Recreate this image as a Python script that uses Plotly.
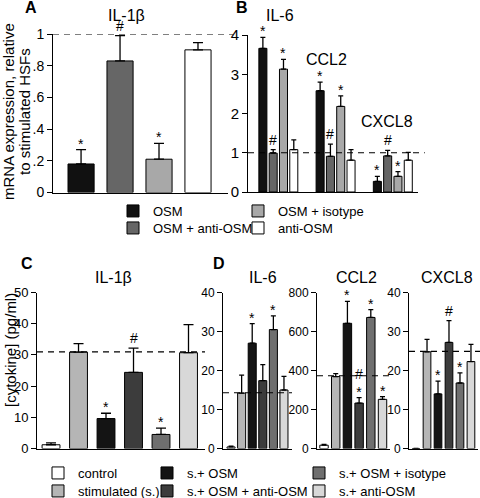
import plotly.graph_objects as go

FONT = "Liberation Sans, Arial, sans-serif"

# ---------------- Panel A : IL-1beta mRNA ----------------
A_groups = ["OSM", "OSM + anti-OSM", "OSM + isotype", "anti-OSM"]
A_vals = [0.18, 0.83, 0.21, 0.90]
A_err = [0.09, 0.16, 0.10, 0.045]
A_marks = ["*", "#", "*", ""]
A_ref = 1.0
A_tickvals = [0, 0.2, 0.4, 0.6, 0.8, 1.0]
A_ticktext = ["0", ".2", ".4", ".6", ".8", "1"]

# ---------------- Panel B : IL-6 / CCL2 / CXCL8 mRNA ----------------
B_genes = ["IL-6", "CCL2", "CXCL8"]
B_osm = [3.66, 2.58, 0.27]
B_osm_err = [0.28, 0.22, 0.13]
B_anti = [0.99, 0.91, 0.92]
B_anti_err = [0.09, 0.31, 0.14]
B_iso = [3.13, 2.18, 0.40]
B_iso_err = [0.25, 0.27, 0.12]
B_antiosm = [1.08, 0.81, 0.81]
B_antiosm_err = [0.25, 0.27, 0.20]
B_osm_marks = ["*", "*", "*"]
B_anti_marks = ["#", "#", "#"]
B_iso_marks = ["*", "*", "*"]
B_antiosm_marks = ["", "", ""]
B_ref = 1.0

AB_colors = ["#111111", "#666666", "#a8a8a8", "#ffffff"]

# ---------------- Panel C / D : secreted cytokines ----------------
CD_groups = ["control", "stimulated (s.)", "s.+ OSM", "s.+ OSM + anti-OSM",
             "s.+ OSM + isotype", "s.+ anti-OSM"]
CD_colors = ["#ffffff", "#b5b5b5", "#141414", "#3c3c3c", "#6f6f6f", "#d8d8d8"]

C_vals = [1.2, 30.9, 9.6, 24.4, 4.5, 30.7]
C_err = [0.6, 2.7, 1.7, 7.8, 2.0, 9.0]
C_marks = ["", "", "*", "#", "*", ""]
C_ref = 31.0

D_il6_vals = [0.4, 14.2, 27.0, 17.4, 30.5, 15.0]
D_il6_err = [0.2, 4.6, 5.0, 4.1, 3.5, 3.5]
D_il6_marks = ["", "", "*", "", "*", ""]
D_il6_ref = 14.3

D_ccl2_vals = [17, 369, 642, 233, 672, 252]
D_ccl2_err = [4, 15, 112, 28, 40, 14]
D_ccl2_marks = ["", "", "*", "#<br>*", "*", "*"]
D_ccl2_ref = 373

D_cxcl8_vals = [0.0, 24.8, 14.0, 27.2, 16.8, 22.3]
D_cxcl8_err = [0.0, 3.2, 3.3, 5.6, 2.6, 4.4]
D_cxcl8_marks = ["", "", "*", "#", "*", ""]
D_cxcl8_ref = 24.9

W, H = 480, 498
BARGAP = 0.28
BARGROUPGAP = 0.22


def px(x):
    return x / W


def py(y):
    return 1 - y / H


def err(arr, width):
    return dict(type="data", array=arr, arrayminus=[0] * len(arr), symmetric=False,
                color="black", thickness=1.3, width=width)


fig = go.Figure()

# Panel A
fig.add_trace(go.Bar(x=A_groups, y=A_vals, error_y=err(A_err, 5), width=0.67,
                     marker=dict(color=AB_colors, line=dict(color="black", width=1)),
                     xaxis="x", yaxis="y", showlegend=False))

# Panel B
B_series = [
    ("OSM", B_osm, B_osm_err, B_osm_marks, "legend"),
    ("OSM + anti-OSM", B_anti, B_anti_err, B_anti_marks, "legend3"),
    ("OSM + isotype", B_iso, B_iso_err, B_iso_marks, "legend2"),
    ("anti-OSM", B_antiosm, B_antiosm_err, B_antiosm_marks, "legend4"),
]
for k, (name, vals, e, marks, lg) in enumerate(B_series):
    fig.add_trace(go.Bar(x=B_genes, y=vals, error_y=err(e, 2.5), name=name,
                         marker=dict(color=AB_colors[k], line=dict(color="black", width=1)),
                         xaxis="x2", yaxis="y2", legend=lg))

# Panel C (one trace per group -> legend entries)
CD_legends = ["legend5", "legend8", "legend6", "legend9", "legend7", "legend10"]
for i, g in enumerate(CD_groups):
    fig.add_trace(go.Bar(x=[g], y=[C_vals[i]], error_y=err([C_err[i]], 5), name=g,
                         width=0.65, offsetgroup="c",
                         marker=dict(color=CD_colors[i], line=dict(color="black", width=1)),
                         xaxis="x3", yaxis="y3", legend=CD_legends[i]))

# Panel D
D_sets = [
    (D_il6_vals, D_il6_err, "x4", "y4", 0.76),
    (D_ccl2_vals, D_ccl2_err, "x5", "y5", 0.72),
    (D_cxcl8_vals, D_cxcl8_err, "x6", "y6", 0.70),
]
for vals, e, xa, ya, wd in D_sets:
    fig.add_trace(go.Bar(x=CD_groups, y=vals, error_y=err(e, 2.5), width=wd,
                         marker=dict(color=CD_colors, line=dict(color="black", width=1)),
                         xaxis=xa, yaxis=ya, showlegend=False))

annotations = []


def mark_ann(x, y, t, xref, yref):
    if not t:
        return
    shift = -4 if t.endswith("*") else 0
    annotations.append(dict(x=x, y=y, text=t, xref=xref, yref=yref, showarrow=False,
                            yanchor="bottom", xanchor="center", yshift=shift,
                            font=dict(family=FONT, size=14, color="black")))


for i, g in enumerate(A_groups):
    mark_ann(g, A_vals[i] + A_err[i], A_marks[i], "x", "y")
slot = (1 - BARGAP) / 4
for k, (name, vals, e, marks, lg) in enumerate(B_series):
    for i in range(len(B_genes)):
        mark_ann(i + (k - 1.5) * slot, vals[i] + e[i], marks[i], "x2", "y2")
for i, g in enumerate(CD_groups):
    mark_ann(g, C_vals[i] + C_err[i], C_marks[i], "x3", "y3")
for (vals, e, xa, ya, wd), marks in zip(D_sets, [D_il6_marks, D_ccl2_marks, D_cxcl8_marks]):
    for i, g in enumerate(CD_groups):
        mark_ann(g, vals[i] + e[i], marks[i], xa, ya)


def text_ann(x, y, t, size, bold=False, angle=0):
    annotations.append(dict(x=px(x), y=py(y), xref="paper", yref="paper", text=t,
                            showarrow=False, xanchor="center", yanchor="middle",
                            textangle=angle,
                            font=dict(family=FONT, size=size, color="black",
                                      weight="bold" if bold else "normal")))


# panel letters
text_ann(31, 8, "A", 16, True)
text_ann(242, 8, "B", 16, True)
text_ann(27, 263, "C", 16, True)
text_ann(219, 263, "D", 16, True)
# titles
text_ann(126, 15, "IL-1β", 16)
text_ann(280, 15, "IL-6", 16)
text_ann(326, 60, "CCL2", 16)
text_ann(387, 122, "CXCL8", 16)
text_ann(113, 277, "IL-1β", 16)
text_ann(263, 277, "IL-6", 16)
text_ann(356, 277, "CCL2", 16)
text_ann(447, 277, "CXCL8", 16)
# y titles
text_ann(8, 112, "mRNA expression, relative", 15, angle=-90)
text_ann(24, 112, "to stimulated HSFs", 15, angle=-90)
text_ann(10, 350, "[cytokine] (pg/ml)", 15, angle=-90)

# dashed reference lines
shapes = []
for xa, ya, ref, x1 in [("x", "y", A_ref, 1.03), ("x2", "y2", B_ref, 1.04),
                        ("x3", "y3", C_ref, 1.0), ("x4", "y4", D_il6_ref, 1.0),
                        ("x5", "y5", D_ccl2_ref, 1.0), ("x6", "y6", D_cxcl8_ref, 1.03)]:
    shapes.append(dict(type="line", xref=f"{xa} domain", yref=ya, x0=0, x1=x1, y0=ref, y1=ref,
                       line=dict(color="black", width=1.2, dash="6px,5px")))


def yax(domain, rng, size, **kw):
    d = dict(domain=domain, range=rng, showgrid=False, zeroline=False, showline=True,
             linecolor="black", linewidth=1, ticks="outside", ticklen=5, tickwidth=1,
             tickcolor="black", tickfont=dict(family=FONT, size=size, color="black"),
             fixedrange=True, automargin=False)
    d.update(kw)
    return d


def xax(domain, rng, anchor, **kw):
    d = dict(domain=domain, range=rng, anchor=anchor, showgrid=False, zeroline=False,
             showline=True, linecolor="black", linewidth=1, showticklabels=False,
             ticks="", type="category", fixedrange=True, automargin=False)
    d.update(kw)
    return d


top_dom = [py(192.5), py(34)]
bot_dom = [py(448.5), py(292.5)]

layout = dict(
    width=W, height=H, margin=dict(l=0, r=0, t=0, b=0, pad=0, autoexpand=False),
    autosize=False,
    paper_bgcolor="white", plot_bgcolor="rgba(0,0,0,0)",
    barmode="group", bargap=BARGAP, bargroupgap=BARGROUPGAP,
    font=dict(family=FONT, color="black"),
    xaxis=xax([px(53), px(228)], [-0.72, 3.77], "y"),
    yaxis=yax(top_dom, [0, 1.0], 14, anchor="x", tickvals=A_tickvals, ticktext=A_ticktext),
    xaxis2=xax([px(248), px(418)], [-0.53, 2.44], "y2"),
    yaxis2=yax([py(192), py(35)], [0, 4], 15, anchor="x2", dtick=1),
    xaxis3=xax([px(37), px(205)], [-0.51, 5.6], "y3",
               categoryorder="array", categoryarray=CD_groups),
    yaxis3=yax(bot_dom, [0, 50], 13, anchor="x3", dtick=10),
    xaxis4=xax([px(223), px(292)], [-0.76, 5.76], "y4"),
    yaxis4=yax(bot_dom, [0, 40], 12, anchor="x4", dtick=10),
    xaxis5=xax([px(317), px(390)], [-0.6, 5.64], "y5"),
    yaxis5=yax(bot_dom, [0, 800], 12, anchor="x5", dtick=200),
    xaxis6=xax([px(409), px(478)], [-0.64, 5.64], "y6"),
    yaxis6=yax(bot_dom, [0, 40], 12, anchor="x6", dtick=10),
    annotations=annotations, shapes=shapes, showlegend=True,
)

# (text x, row y, legend left offset)
leg_pos = {
    "legend": (153, 211, 40), "legend2": (273, 211, 35),
    "legend3": (153, 228, 40), "legend4": (273, 228, 35),
    "legend5": (76, 473, 38), "legend6": (185, 473, 38), "legend7": (337, 473, 38),
    "legend8": (76, 491, 38), "legend9": (185, 491, 38), "legend10": (337, 491, 38),
}
for key, (tx, ty, off) in leg_pos.items():
    layout[key] = dict(x=px(tx - off), y=py(ty), xanchor="left", yanchor="middle",
                       orientation="v", bgcolor="rgba(0,0,0,0)", itemwidth=30,
                       tracegroupgap=0, borderwidth=0,
                       font=dict(family=FONT, size=13, color="black"))

fig.update_layout(**layout)
fig.write_html("out.html", config={"displayModeBar": False},
               post_script="document.body.style.margin='0';document.body.style.overflow='hidden';")
